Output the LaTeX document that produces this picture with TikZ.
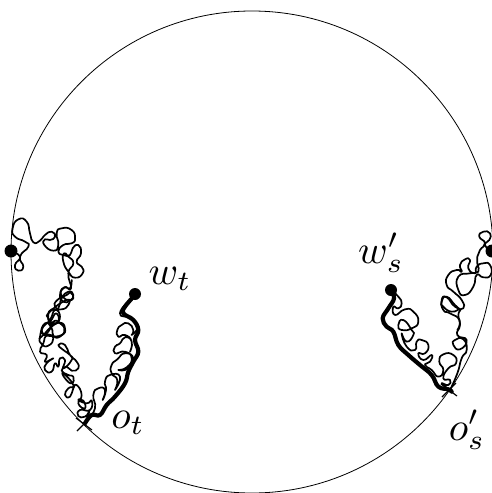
\documentclass[tikz,border=0pt]{standalone}
\begin{document}
\begin{tikzpicture}[x=1pt,y=-1pt,
  walk/.style={line width=1.7pt,line join=round,line cap=round},
  heavy/.style={line width=4.2pt,line join=round,line cap=round},
  lbl/.style={inner sep=0pt},
  dotnode/.style={circle,fill=black,inner sep=0pt,minimum size=13pt},
  z1/.style={shift={(0,210)},x=.3333pt,y=-.3333pt},
  z2/.style={shift={(30,280)},x=.3333pt,y=-.3333pt},
  z3/.style={shift={(370,270)},x=.3333pt,y=-.3333pt},
  z4/.style={shift={(420,220)},x=.3333pt,y=-.3333pt}]
\useasboundingbox (0,0) rectangle (492,493);
\begin{scope}
\clip (0,0) rectangle (492,493);
\draw[line width=.8pt] (252,252) circle (241);
% left walk, upper part
\begin{scope}[z1]
\draw[walk] plot[smooth,tension=1] coordinates {(33,125)(60,140)(45,165)(55,182)(70,170)(60,140)(85,110)(75,95)(45,80)(38,55)(55,28)(80,35)(90,70)(100,97)(120,92)(135,75)(155,65)(165,80)(150,90)(135,88)(133,105)(160,122)(175,105)(170,70)(185,55)(215,60)(225,85)(215,100)(190,105)(175,125)(190,135)(210,135)(218,115)(235,105)(243,130)(230,155)(245,170)(248,190)(225,203)(205,185)(190,155)(192,130)(205,140)(220,160)(205,190)(213,235)(195,232)(182,245)(190,262)(205,270)(220,265)(212,248)(200,255)(172,270)(165,290)(185,298)(205,285)(200,270)(150,305)(145,325)(165,340)(180,320)(165,300)(150,330)(130,350)(128,370)(150,378)(185,375)(195,355)(180,338)(155,350)(130,375)(118,385)};
\end{scope}
% left walk, lower part
\begin{scope}[z2]
\draw[walk] plot[smooth,tension=1] coordinates {(125,0)(120,25)(103,22)(90,45)(100,65)(120,62)(130,45)(115,35)(95,55)(85,85)(65,88)(55,105)(62,130)(85,125)(78,100)(60,125)(40,135)(37,160)(55,155)(70,125)(90,130)(103,150)(90,170)(70,168)(65,145)(45,130)(30,170)(35,192)(55,197)(70,175)(50,165)(40,190)(30,215)(50,225)(45,245)(60,240)(70,235)(50,250)(45,270)(65,275)(75,250)(85,260)(90,235)(105,240)(100,265)(125,240)(120,225)(100,210)(85,195)(105,195)(120,225)(140,245)(145,265)(125,272)(110,260)(95,272)(115,285)(130,290)(125,310)(105,295)(100,280)(130,315)(115,325)(105,345)(120,350)(130,325)(140,315)(155,345)(145,370)(165,385)(160,362)(145,360)(170,370)(185,362)(180,390)(150,390)(145,408)(165,410)(178,395)(165,430)};
\draw[heavy] plot[smooth,tension=.7] coordinates {(315,45)(285,80)(280,100)(310,120)(325,150)(315,180)(325,215)(310,245)(295,275)(285,310)(255,350)(230,375)(210,405)(185,405)(165,430)};
\draw[walk] plot[smooth,tension=1] coordinates {(175,415)(195,385)(190,345)(205,325)(225,330)(218,360)(228,330)(225,305)(240,285)(270,290)(255,330)(262,300)(245,280)(245,255)(262,238)(285,220)(310,235)(295,265)(265,270)(290,262)(305,235)(285,215)(255,220)(255,200)(270,190)(285,172)(305,185)(300,215)(305,185)(285,165)(265,170)(262,150)(275,135)(295,130)(310,150)(305,165)(322,140)(300,115)(270,100)(300,60)};
\end{scope}
% right walk, lower part
\begin{scope}[z3]
\draw[heavy] plot[smooth,tension=.7] coordinates {(63,60)(72,85)(55,115)(38,145)(50,170)(70,185)(85,225)(115,255)(150,285)(185,315)(205,350)(235,358)(245,365)};
\draw[walk] plot[smooth,tension=1] coordinates {(63,60)(85,80)(95,100)(85,115)(70,110)(75,135)(105,118)(130,125)(145,155)(125,175)(95,180)(85,165)(100,150)(125,180)(130,195)(110,215)(95,190)(110,230)(135,240)(140,215)(155,210)(175,225)(165,250)(145,250)(160,270)(185,255)(180,275)(165,285)(185,300)(205,320)(220,300)(208,275)(220,253)(250,255)(258,280)(235,295)(220,325)(240,330)(235,345)(215,340)(240,360)};
\draw[walk] plot[smooth,tension=1] coordinates {(240,360)(262,310)(275,265)(290,240)(280,208)(255,210)(250,225)(270,238)(290,210)(262,195)(270,165)(265,135)(270,118)(245,125)(220,110)(215,95)(230,80)(255,105)(270,118)};
\end{scope}
% right walk, upper part
\begin{scope}[z4]
\draw[walk] plot[smooth,tension=1] coordinates {(112,330)(118,300)(90,280)(70,270)(65,240)(80,232)(105,260)(130,265)(125,240)(100,215)(80,195)(85,165)(110,150)(125,155)(120,135)(135,118)(150,120)(145,145)(165,160)(170,140)(190,130)(210,135)(212,165)(190,172)(170,165)(160,200)(135,225)(115,210)(115,170)(150,160)(175,155)(172,130)(172,110)(180,90)(195,70)(178,50)(190,35)(210,40)(208,60)(195,75)(215,95)};
\end{scope}
\node[dotnode] (endR) at (492,251) {};
\end{scope}
\node[dotnode] (endL) at (11,251) {};
\node[dotnode,minimum size=12pt] (wt) at (135,294) {};
\node[dotnode,minimum size=12pt] (ws) at (391,290) {};
\coordinate (xl) at (84,424);
\coordinate (xr) at (449,390);
\draw[line width=1.2pt] ([shift={(-8,-6)}]xl) -- ([shift={(8,6)}]xl) ([shift={(-7,7)}]xl) -- ([shift={(7,-7)}]xl);
\draw[line width=1.2pt] ([shift={(-8,-6)}]xr) -- ([shift={(8,6)}]xr) ([shift={(-7,7)}]xr) -- ([shift={(7,-7)}]xr);
\node[lbl] (lwt) at (170,279) {\scalebox{4}{$w_t$}};
\node[lbl] (lot) at (128,423) {\scalebox{4}{$o_t$}};
\node[lbl] (lws) at (381,253) {\scalebox{4}{$w'_s$}};
\node[lbl] (los) at (467,430) {\scalebox{4}{$o'_s$}};
\end{tikzpicture}
\end{document}
